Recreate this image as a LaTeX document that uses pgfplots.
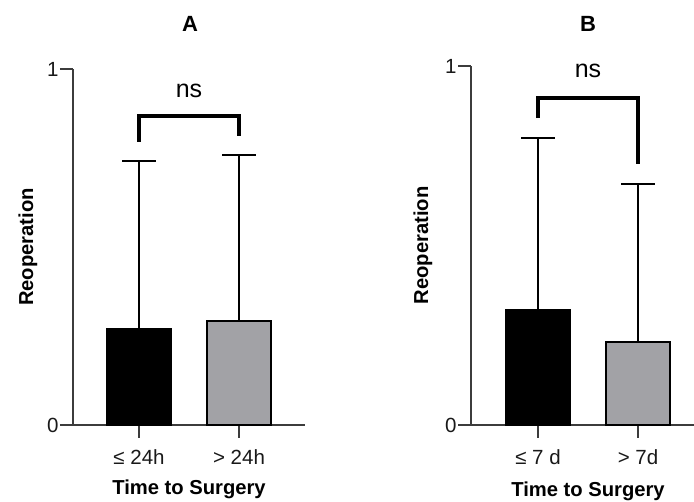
\documentclass[border=0pt]{standalone}
\usepackage{pgfplots}
\pgfplotsset{compat=1.18}
\usepackage{fontspec}
\setmainfont{Liberation Sans}
\definecolor{barGray}{RGB}{162,162,166}
\definecolor{axGray}{RGB}{60,60,60}

\pgfplotsset{
  panel/.style={
    scale only axis,
    ymin=0, ymax=1, ytick={0,1},
    xtick={0,1},
    axis x line*=bottom, axis y line*=left,
    axis line style={-, line width=1.2pt, draw=axGray},
    tick align=outside, major tick length=13pt,
    tick style={line width=1.2pt, draw=axGray},
    ticklabel style={font=\fontsize{20.5}{22}\selectfont, text=black!90},
    /pgf/number format/assume math mode=true,
    xticklabel style={anchor=base, yshift=-27pt},
    yticklabel style={xshift=2pt},
    label style={font=\bfseries\fontsize{20.2}{22}\selectfont},
    ybar, bar width=64pt, bar shift=0pt,
    clip=false,
  },
  barplot/.style={draw=black, line width=2pt,
    error bars/.cd, y dir=plus, y explicit,
    error bar style={line width=1.5pt, black},
    error mark options={line width=1.5pt, black, mark size=17pt, rotate=90}},
}

\begin{document}
\begin{tikzpicture}
\useasboundingbox (0pt,0pt) rectangle (694pt,502pt);

% Panel A
\begin{axis}[panel,
  at={(139pt,77pt)}, anchor=origin,
  width=232pt, height=356pt,
  xmin=-0.66, xmax=1.66,
  xticklabels={≤ 24h, > 24h},
  xlabel={Time to Surgery},
  xlabel style={at={(axis cs:0.5,0)}, anchor=base, yshift=-70pt},
  ylabel={Reoperation},
  ylabel style={at={(axis description cs:-40/232,0.5)}, anchor=base},
]
\addplot[fill=black, barplot] coordinates {(0,0.270) +- (0,0.472)};
\addplot[fill=barGray, barplot] coordinates {(1,0.292) +- (0,0.466)};
\draw[line width=3.3pt, line join=miter] (axis cs:0,0.795) |- (axis cs:1,0.868) -- (axis cs:1,0.812);
\node[anchor=base, font=\fontsize{25}{28}\selectfont] at (axis cs:0.5,0.921) {ns};
\end{axis}

% Panel B
\begin{axis}[panel,
  at={(538pt,77pt)}, anchor=origin,
  width=223pt, height=359pt,
  xmin=-0.67, xmax=1.56,
  xticklabels={≤ 7 d, > 7d},
  xlabel={Time to Surgery},
  xlabel style={at={(axis cs:0.5,0)}, anchor=base, yshift=-72pt},
  ylabel={Reoperation},
  ylabel style={at={(axis description cs:-43/223,0.5)}, anchor=base},
]
\addplot[fill=black, barplot] coordinates {(0,0.320) +- (0,0.479)};
\addplot[fill=barGray, barplot] coordinates {(1,0.231) +- (0,0.440)};
\draw[line width=3.3pt, line join=miter] (axis cs:0,0.855) |- (axis cs:1,0.911) -- (axis cs:1,0.727);
\node[anchor=base, font=\fontsize{25}{28}\selectfont] at (axis cs:0.5,0.967) {ns};
\end{axis}

\node[anchor=base, font=\bfseries\fontsize{22}{24}\selectfont] at (190pt,470pt) {A};
\node[anchor=base, font=\bfseries\fontsize{22}{24}\selectfont] at (588pt,470pt) {B};
\end{tikzpicture}
\end{document}
